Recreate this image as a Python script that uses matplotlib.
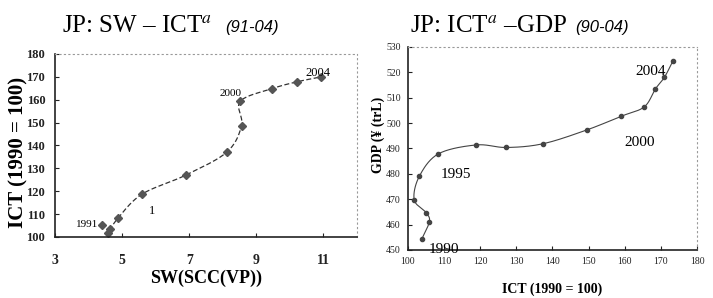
import numpy as np
import matplotlib.pyplot as plt

plt.rcParams['font.family'] = ['Liberation Serif', 'DejaVu Serif']
plt.rcParams['mathtext.fontset'] = 'stix'

# left panel: SW vs ICT, 1991-2004
sw = [4.40, 4.64, 4.59, 4.87, 5.59, 6.89, 8.12, 8.56, 8.52, 9.48, 10.2, 10.93]
ict_l = [105.2, 103.5, 101.9, 108.1, 118.7, 127.0, 137.1, 148.7, 159.3, 164.9, 167.8, 170.0]

# right panel: ICT vs GDP, 1990-2004
ict_r = [103.9, 106.0, 105.1, 101.8, 103.2, 108.5, 119.0, 127.3, 137.5, 149.7,
         159.0, 165.4, 168.5, 171.0, 173.3]
gdp = [454.3, 461.2, 464.7, 469.8, 479.0, 487.9, 491.4, 490.4, 491.9, 497.4,
       502.7, 506.4, 513.5, 518.1, 524.4]

left_yticks = [100, 110, 120, 130, 140, 150, 160, 170, 180]
left_xticks = [3, 5, 7, 9, 11]
right_yticks = [450, 460, 470, 480, 490, 500, 510, 520, 530]
right_xticks = [100, 110, 120, 130, 140, 150, 160, 170, 180]


def smooth(x, y, sx, sy, n=20):
    # catmull-rom through the points, done in pixel-ish scaled space
    p = np.column_stack([np.asarray(x) / sx, np.asarray(y) / sy])
    p = np.vstack([p[0] * 2 - p[1], p, p[-1] * 2 - p[-2]])
    out = []
    for i in range(1, len(p) - 2):
        p0, p1, p2, p3 = p[i - 1], p[i], p[i + 1], p[i + 2]
        t = np.linspace(0, 1, n)[:, None]
        c = 0.5 * (2 * p1 + (-p0 + p2) * t + (2 * p0 - 5 * p1 + 4 * p2 - p3) * t ** 2
                   + (-p0 + 3 * p1 - 3 * p2 + p3) * t ** 3)
        out.append(c)
    c = np.vstack(out)
    return c[:, 0] * sx, c[:, 1] * sy


def frame(ax):
    for s in ['top', 'right']:
        ax.spines[s].set_linestyle((0, (1, 3)))
        ax.spines[s].set_color('#999999')
        ax.spines[s].set_linewidth(0.8)
    for s in ['left', 'bottom']:
        ax.spines[s].set_color('#222222')
        ax.spines[s].set_linewidth(1.2)
    ax.tick_params(direction='in', length=3, width=0.8, colors='#222222')


fig = plt.figure(figsize=(7.13, 2.98), dpi=100)

# ---- left
ax1 = fig.add_axes([0.0771, 0.2047, 0.4236, 0.6141])
frame(ax1)
cx, cy = smooth(sw[1:], ict_l[1:], 9.0, 80.0)
ax1.plot(cx, cy, color='#333333', lw=0.9, ls=(0, (4, 2)))
ax1.plot(sw, ict_l, ls='none', marker='D', ms=4, color='#555555')
ax1.set_xlim(3, 12)
ax1.set_ylim(100, 180)
ax1.set_xticks(left_xticks)
ax1.set_yticks(left_yticks)
ax1.tick_params(axis='x', labelsize=10, pad=12)
ax1.tick_params(axis='y', labelsize=9, pad=7)
for t in ax1.get_xticklabels() + ax1.get_yticklabels():
    t.set_fontweight('bold')
ax1.set_xlabel('SW(SCC(VP))', fontsize=13, fontweight='bold', labelpad=2)
ax1.set_ylabel('ICT (1990 = 100)', fontsize=15, fontweight='bold')
ax1.yaxis.set_label_coords(-0.089, 0.46)
ax1.text(4.3, 105.3, '1991', fontsize=8, ha='right', va='center')
ax1.text(5.9, 111.5, '1', fontsize=9, ha='center', va='center')
ax1.text(8.55, 162.6, '2000', fontsize=8, ha='right', va='center')
ax1.text(10.85, 171.8, '2004', fontsize=9, ha='center', va='center')

# ---- right
ax2 = fig.add_axes([0.5718, 0.1611, 0.4058, 0.6812])
frame(ax2)
cx, cy = smooth(ict_r, gdp, 80.0, 80.0)
ax2.plot(cx, cy, color='#444444', lw=0.8)
ax2.plot(ict_r, gdp, ls='none', marker='o', ms=3, color='#444444')
ax2.set_xlim(100, 180)
ax2.set_ylim(450, 530)
ax2.set_xticks(right_xticks)
ax2.set_yticks(right_yticks)
ax2.tick_params(labelsize=7, pad=5)
ax2.set_xlabel('ICT (1990 = 100)', fontsize=10, fontweight='bold', labelpad=12)
ax2.set_ylabel('GDP (¥ (trL)', fontsize=10, fontweight='bold')
ax2.yaxis.set_label_coords(-0.078, 0.567)
ax2.text(110.0, 450.3, '1990', fontsize=11, ha='center', va='center')
ax2.text(113.3, 479.6, '1995', fontsize=11, ha='center', va='center')
ax2.text(164.2, 492.2, '2000', fontsize=11, ha='center', va='center')
ax2.text(167.3, 520.5, '2004', fontsize=11, ha='center', va='center')

# titles
fig.text(0.087, 0.893, r'JP: SW – ICT$^{\mathit{a}}$', fontsize=18, ha='left',
         va='baseline')
fig.text(0.316, 0.893, '(91-04)', fontsize=12, style='italic', ha='left',
         va='baseline', family='Liberation Sans')
fig.text(0.575, 0.893, r'JP: ICT$^{\mathit{a}}$ –GDP', fontsize=18, ha='left',
         va='baseline')
fig.text(0.807, 0.893, '(90-04)', fontsize=12, style='italic', ha='left',
         va='baseline', family='Liberation Sans')

fig.savefig('out.png', dpi=100)
